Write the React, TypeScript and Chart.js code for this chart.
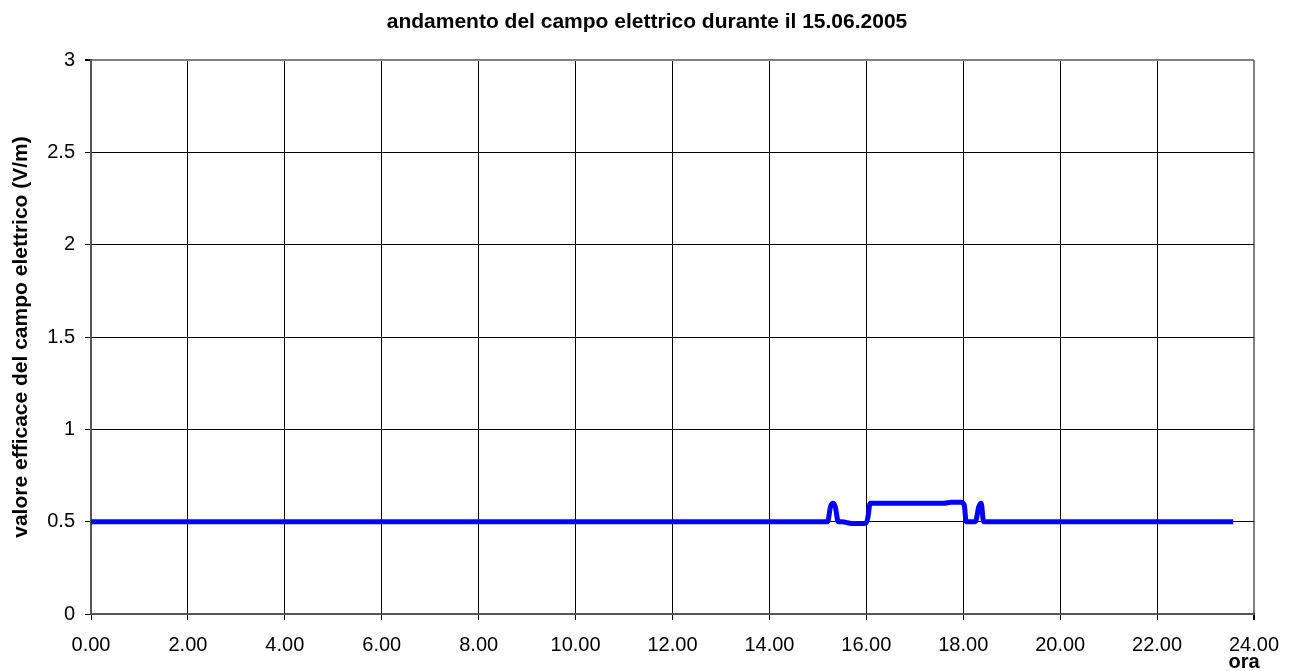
import React, { useEffect, useRef } from "react";
import { Chart, registerables } from "chart.js";

Chart.register(...registerables);

const TITLE = "andamento del campo elettrico durante il 15.06.2005";
const Y_TITLE = "valore efficace del campo elettrico (V/m)";
const X_TITLE = "ora";

// time of day in hours
const hours = [
  0, 2, 4, 6, 8, 10, 12, 14, 15.0, 15.2, 15.26, 15.31, 15.36, 15.42, 15.5,
  15.7, 15.95, 16.0, 16.03, 16.08, 16.3, 16.8, 17.3, 17.6, 17.75, 17.95, 18.02,
  18.06, 18.25, 18.32, 18.37, 18.42, 18.48, 19, 20, 22, 23.57,
];
// electric field rms value (V/m)
const fieldValues = [
  0.5, 0.5, 0.5, 0.5, 0.5, 0.5, 0.5, 0.5, 0.5, 0.5, 0.58, 0.6, 0.58, 0.5, 0.5,
  0.49, 0.49, 0.495, 0.52, 0.6, 0.6, 0.6, 0.6, 0.6, 0.605, 0.605, 0.59, 0.5,
  0.5, 0.58, 0.6, 0.5, 0.5, 0.5, 0.5, 0.5, 0.5,
];

const X_MIN = 0;
const X_MAX = 24;
const X_STEP = 2;
const Y_MIN = 0;
const Y_MAX = 3;
const Y_STEP = 0.5;

const FONT = "'Liberation Sans', Arial, sans-serif";

export default function App() {
  const ref = useRef<HTMLCanvasElement | null>(null);

  useEffect(() => {
    if (!ref.current) return;
    const xTitlePlugin = {
      id: "xTitle",
      afterDraw(chart: any) {
        const ctx = chart.ctx;
        const xs = chart.scales.x;
        ctx.save();
        ctx.font = `bold 20px ${FONT}`;
        ctx.fillStyle = "#000";
        ctx.textAlign = "center";
        ctx.textBaseline = "middle";
        ctx.fillText(X_TITLE, xs.getPixelForValue(X_MAX) - 10, 662);
        ctx.restore();
      },
    };
    const chart = new Chart(ref.current, {
      type: "line",
      data: {
        datasets: [
          {
            data: hours.map((h, i) => ({ x: h, y: fieldValues[i] })),
            borderColor: "#0000ff",
            backgroundColor: "#0000ff",
            borderWidth: 5,
            pointRadius: 0,
            cubicInterpolationMode: "monotone",
            fill: false,
            yAxisID: "y",
          },
        ],
      },
      options: {
        animation: false,
        responsive: false,
        maintainAspectRatio: false,
        layout: { padding: 0 },
        plugins: {
          legend: { display: false },
          tooltip: { enabled: false },
          title: {
            display: true,
            text: TITLE,
            color: "#000",
            font: { family: FONT, size: 21, weight: "bold" },
            padding: { top: 10, bottom: 24.8 },
          },
        },
        scales: {
          x: {
            type: "linear",
            min: X_MIN,
            max: X_MAX,
            ticks: {
              stepSize: X_STEP,
              color: "#000",
              font: { family: FONT, size: 20 },
              padding: 13,
              maxRotation: 0,
              callback: (v: any) => Number(v).toFixed(2),
            },
            grid: {
              color: (c: any) => (c.tick && c.tick.value === X_MAX ? "#808080" : "#000"),
              lineWidth: (c: any) => (c.tick && c.tick.value === X_MAX ? 2 : 1),
              tickLength: 6,
              tickColor: "#000",
            },
            border: { color: "#555", width: 2 },
            afterFit: (s: any) => {
              s.height = 57;
            },
          },
          y: {
            type: "linear",
            position: "left",
            min: Y_MIN,
            max: Y_MAX,
            ticks: {
              stepSize: Y_STEP,
              color: "#000",
              font: { family: FONT, size: 20 },
              padding: 10,
              callback: (v: any) => String(Number(v)),
            },
            grid: {
              color: (c: any) => (c.tick && c.tick.value === Y_MAX ? "#808080" : "#000"),
              lineWidth: (c: any) => (c.tick && c.tick.value === Y_MAX ? 2 : 1),
              tickLength: 6,
              tickColor: "#000",
            },
            border: { color: "#555", width: 2 },
            title: {
              display: true,
              text: Y_TITLE,
              color: "#000",
              font: { family: FONT, size: 21, weight: "bold" },
              padding: { top: 9, bottom: 0 },
            },
            afterFit: (s: any) => {
              s.width = 91;
            },
          },
          spacer: {
            type: "linear",
            position: "right",
            display: true,
            min: Y_MIN,
            max: Y_MAX,
            grid: { display: false, drawTicks: false },
            border: { display: false },
            ticks: { display: false },
            afterFit: (s: any) => {
              s.width = 40;
            },
          },
        },
      },
      plugins: [xTitlePlugin],
    });
    return () => chart.destroy();
  }, []);

  return (
    <div style={{ position: "absolute", left: 0, top: 0, width: 1294, height: 671, background: "#fff" }}>
      <canvas ref={ref} width={1294} height={671} />
    </div>
  );
}
